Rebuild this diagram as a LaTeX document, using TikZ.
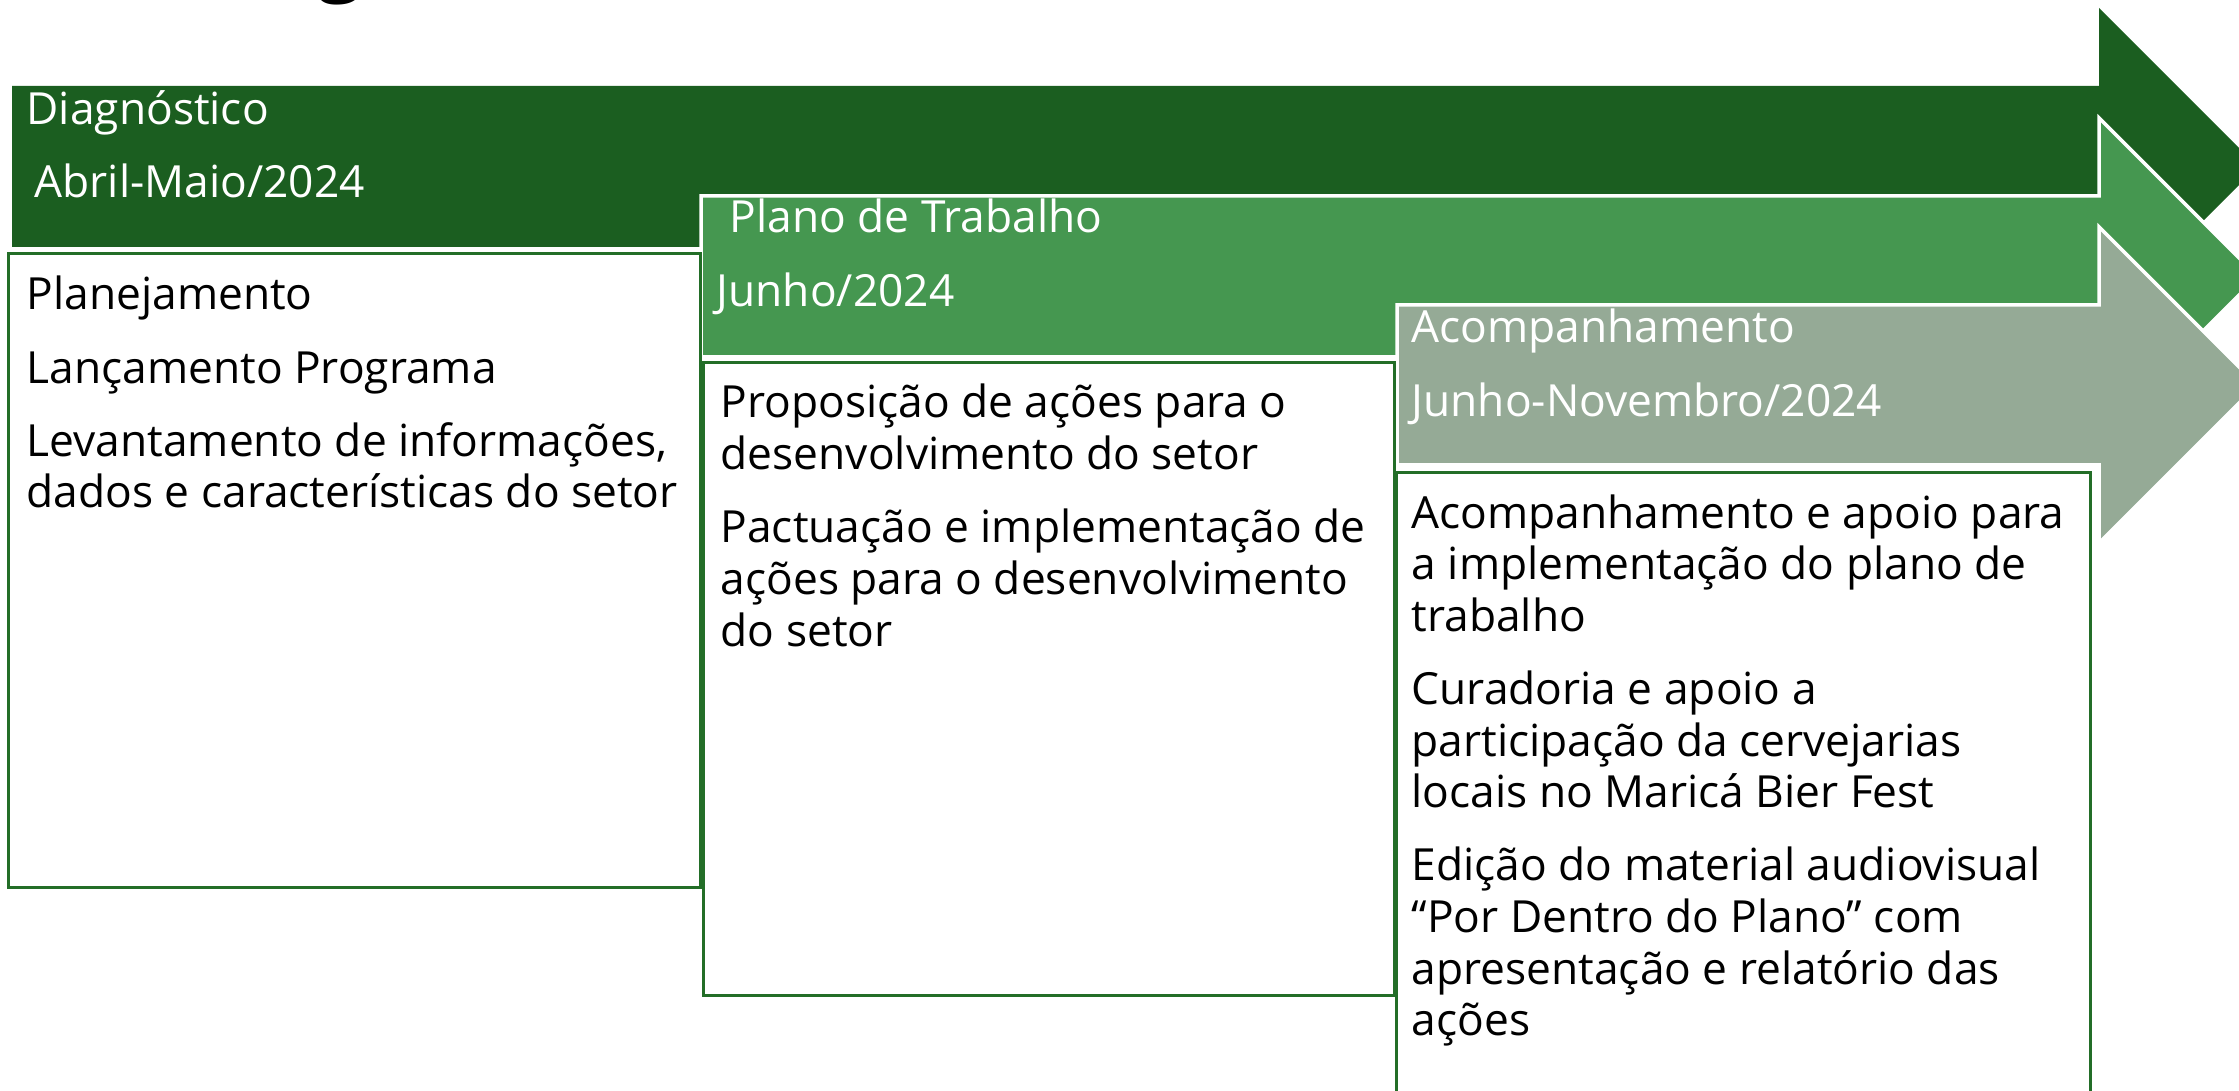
\documentclass[tikz,border=0pt]{standalone}
\usepackage{fontspec}
\setmainfont{Open Sans}
\definecolor{darkG}{RGB}{27,94,32}
\definecolor{medG}{RGB}{69,151,80}
\definecolor{grayG}{RGB}{149,170,150}
\definecolor{boxG}{RGB}{35,110,40}
\newcommand\bodyfont{\fontsize{12.6}{14.7}\selectfont}
\newcommand\lns[1]{\begin{tabular}[t]{@{}l@{}}#1\end{tabular}}
\begin{document}
\begin{tikzpicture}[x=0.1mm,y=-0.1mm,
  hdr/.style={anchor=base west, inner sep=0, text=white, font=\bodyfont},
  body/.style={anchor=base west, inner sep=0, text=black, font=\bodyfont},
  card/.style={draw=boxG, line width=0.3mm, fill=white},
  band/.style={draw=white, line width=0.35mm, line join=miter}]
\useasboundingbox (0,0) rectangle (2239,1091);
\begin{scope}
  \clip (0,0) rectangle (2239,1091);
  \node[anchor=south, inner sep=0, font=\fontsize{22}{22}\selectfont\bfseries] (title) at (340,6) {g};
  % phase arrows
  \fill[darkG] (12,86) -- (2099,86) -- (2099,8) -- (2257.5,166.5) -- (2099,325) -- (2099,247) -- (12,247) -- cycle;
  \filldraw[band, fill=medG] (701,196) -- (2099,196) -- (2099,118) -- (2257.5,276.5) -- (2099,435) -- (2099,357) -- (701,357) -- cycle;
  \filldraw[band, fill=grayG] (1397,305) -- (2099,305) -- (2099,227) -- (2257,385) -- (2099,543) -- (2099,465) -- (1397,465) -- cycle;
  % cards
  \draw[card] (8,254) rectangle (700,887);
  \draw[card] (703,363) rectangle (1394,995);
  \draw[card] (1396,473) rectangle (2090,1120);
\end{scope}
\node[hdr] (d1) at (26,125) {Diagnóstico};
\node[hdr] (d2) at (34,198) {Abril-Maio/2024};
\node[hdr] (p1) at (729,233) {Plano de Trabalho};
\node[hdr] (p2) at (716,307) {Junho/2024};
\node[hdr] (a1) at (1411,343) {Acompanhamento};
\node[hdr] (a2) at (1411,417) {Junho-Novembro/2024};
\node[body] (b1) at (26,310) {\lns{Planejamento\\[6.1pt]
  Lançamento Programa\\[6.1pt]
  Levantamento de informações,\\
  dados e características do setor}};
\node[body] (b2) at (720,418) {\lns{Proposição de ações para o\\
  desenvolvimento do setor\\[6.1pt]
  Pactuação e implementação de\\
  ações para o desenvolvimento\\
  do setor}};
\node[body] (b3) at (1411,528) {\lns{Acompanhamento e apoio para\\
  a implementação do plano de\\
  trabalho\\[6.1pt]
  Curadoria e apoio a\\
  participação da cervejarias\\
  locais no Maricá Bier Fest\\[6.1pt]
  Edição do material audiovisual\\
  “Por Dentro do Plano” com\\
  apresentação e relatório das\\
  ações}};
\end{tikzpicture}
\end{document}
